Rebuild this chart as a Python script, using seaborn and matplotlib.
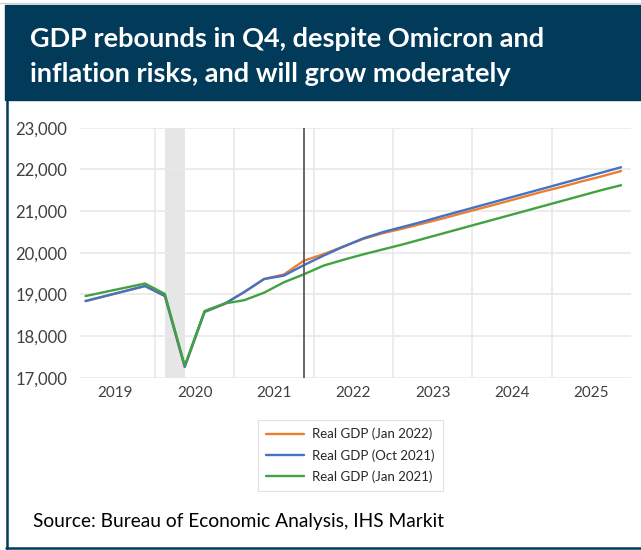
import numpy as np
import pandas as pd
import matplotlib
matplotlib.use("Agg")
import matplotlib.pyplot as plt
from matplotlib.lines import Line2D
from matplotlib.patches import Rectangle
from matplotlib.ticker import FuncFormatter
import seaborn as sns

# Data (billions of chained dollars)
quarters = [f"{y}Q{q}" for y in range(2019, 2026) for q in range(1, 5)]

gdp_jan2022 = [18840, 18960, 19080, 19200,
               18960, 17260, 18580, 18770,
               19055, 19368, 19478, 19806,
               19965, 20150, 20330, 20470,
               20580, 20700, 20820, 20950,
               21075, 21200, 21330, 21460,
               21580, 21710, 21830, 21960]

gdp_oct2021 = [18840, 18960, 19080, 19200,
               18960, 17260, 18580, 18770,
               19055, 19368, 19450, 19700,
               19930, 20144, 20344, 20496,
               20620, 20745, 20880, 21010,
               21140, 21270, 21400, 21530,
               21660, 21790, 21920, 22050]

gdp_jan2021 = [18960, 19060, 19160, 19260,
               19010, 17290, 18600, 18780,
               18860, 19040, 19290, 19480,
               19690, 19830, 19960, 20080,
               20200, 20330, 20460, 20590,
               20720, 20850, 20980, 21110,
               21240, 21370, 21500, 21620]

series_names = ["Real GDP (Jan 2022)", "Real GDP (Oct 2021)", "Real GDP (Jan 2021)"]
series_colors = ["#ED7D31", "#4472C4", "#3FA33F"]
years = [2019, 2020, 2021, 2022, 2023, 2024, 2025]

title_lines = ["GDP rebounds in Q4, despite Omicron and",
               "inflation risks, and will grow moderately"]
source_text = "Source: Bureau of Economic Analysis, IHS Markit"

# quarter -> position on a fractional-year axis (quarter midpoint)
xpos = [int(s[:4]) + (int(s[-1]) - 0.5) / 4 for s in quarters]

df = pd.DataFrame({
    "x": xpos * 3,
    "gdp": gdp_jan2022 + gdp_oct2021 + gdp_jan2021,
    "series": np.repeat(series_names, len(quarters)),
})

sns.set_style("white")
plt.rcParams["font.family"] = ["Lato", "DejaVu Sans"]

fig = plt.figure(figsize=(6.41, 5.50), dpi=100)
navy = "#023A5A"

# title band and frame
fig.patches.append(Rectangle((5 / 641, 1 - 100 / 550), 1, 95 / 550,
                             transform=fig.transFigure, color=navy, zorder=0))
fig.lines.append(Line2D([0, 1], [1 - 3 / 550] * 2, transform=fig.transFigure,
                        color="#d0d4d8", lw=1))
fig.lines.append(Line2D([7 / 641] * 2, [1 - 548 / 550, 1 - 98 / 550],
                        transform=fig.transFigure, color=navy, lw=1.8))
fig.lines.append(Line2D([6 / 641, 1], [1 - 548 / 550] * 2,
                        transform=fig.transFigure, color=navy, lw=1.8))

fig.text(30 / 641, 1 - 47 / 550, title_lines[0], color="white",
         fontsize=19.5, fontweight="bold", va="baseline")
fig.text(30 / 641, 1 - 82 / 550, title_lines[1], color="white",
         fontsize=19.5, fontweight="bold", va="baseline")
fig.text(33 / 641, 1 - 527 / 550, source_text, color="black",
         fontsize=13.8, va="baseline")

ax = fig.add_axes([80 / 641, 1 - 377.7 / 550, 551 / 641, 250 / 550])

ax.axvspan(2020.125, 2020.375, color="#e6e6e6", lw=0, zorder=0.5)

sns.lineplot(data=df, x="x", y="gdp", hue="series", hue_order=series_names,
             palette=series_colors, linewidth=1.7, ax=ax, legend=True, zorder=3)

ax.axvline(2021.875, color="#5a5a5a", lw=1.3, zorder=4)

ax.set_xlim(2019.055, 2026.0)
ax.set_ylim(17000, 23000)
ax.set_yticks(range(17000, 23001, 1000))
ax.yaxis.set_major_formatter(FuncFormatter(lambda v, p: f"{int(v):,}"))
ax.set_xticks([y + 0.5 for y in years])
ax.set_xticklabels([str(y) for y in years])
ax.set_xticks(years[1:], minor=True)

ax.grid(False)
ax.grid(axis="y", which="major", color="#e9e9e9", lw=1.2, zorder=0)
ax.grid(axis="x", which="minor", color="#e9e9e9", lw=1.2, zorder=0)
ax.tick_params(axis="both", which="both", length=0)
ax.tick_params(axis="y", labelsize=12, labelcolor="#404040", pad=9)
ax.tick_params(axis="x", labelsize=11, labelcolor="#404040", pad=6)
for s in ax.spines.values():
    s.set_visible(False)
ax.set_xlabel("")
ax.set_ylabel("")

leg = ax.legend(loc="upper left", bbox_to_anchor=(258 / 641, 1 - 420 / 550),
                bbox_transform=fig.transFigure, frameon=True, fancybox=False,
                edgecolor="#d9d9d9", fontsize=9.5, handlelength=2.9,
                handletextpad=0.6, labelspacing=0.65, borderpad=0.6,
                borderaxespad=0, title=None)
leg.get_frame().set_linewidth(0.8)
for t in leg.get_texts():
    t.set_color("#262626")

fig.savefig("out.png", dpi=100, facecolor="white")
